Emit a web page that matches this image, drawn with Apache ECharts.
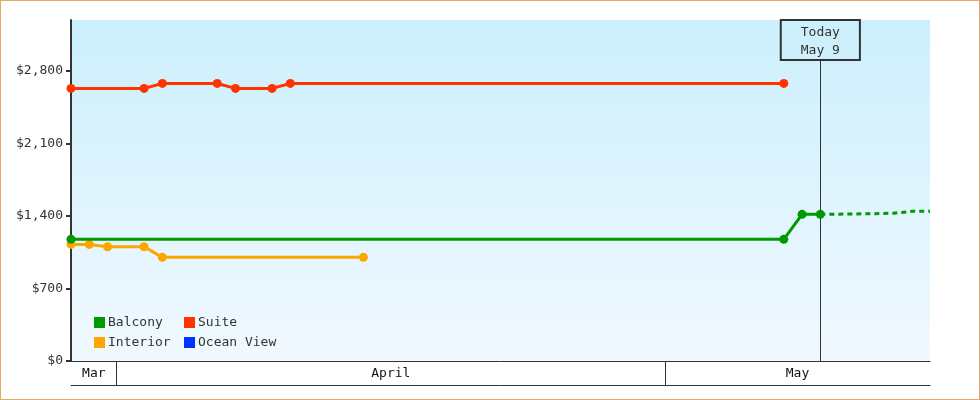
<!DOCTYPE html>
<html>
<head>
<meta charset="utf-8">
<script src="https://cdn.jsdelivr.net/npm/echarts@6/dist/echarts.min.js"></script>
<style>
html,body{margin:0;padding:0;background:#fff;}
#c{width:980px;height:400px;box-sizing:border-box;border:1px solid #e9a867;}
</style>
</head>
<body>
<div id="c"></div>
<script>
function d(m, day) { return new Date(2024, m - 1, day, 12).getTime(); }

const seriesNames = ["Balcony", "Suite", "Interior", "Ocean View"];
const seriesColors = ["#009900", "#ff3300", "#ffa500", "#0033ff"];

const balcony = [[d(3,29),1174],[d(5,7),1174],[d(5,8),1415],[d(5,9),1415]];
const balconyForecast = [[d(5,9),1415],[d(5,10),1417],[d(5,11),1419],[d(5,12),1421],[d(5,13),1426],[d(5,14),1444],[d(5,15),1445]];
const suite = [[d(3,29),2630],[d(4,2),2630],[d(4,3),2678],[d(4,6),2678],[d(4,7),2630],[d(4,9),2630],[d(4,10),2678],[d(5,7),2678]];
const interior = [[d(3,29),1125],[d(3,30),1125],[d(3,31),1102],[d(4,2),1102],[d(4,3),1000],[d(4,14),1000]];
const oceanView = [];

const xMin = d(3,29), xMax = d(5,15);
const today = d(5,9);
const todayLabel = "Today\nMay 9";
const monthStarts = [new Date(2024,3,1).getTime(), new Date(2024,4,1).getTime()];
const monthNames = ["Mar", "April", "May"];
const yMin = 0, yMax = 3290, yStep = 700;

const FONT = "DejaVu Sans Mono";
const TXT = "#333";

const bounds = [xMin].concat(monthStarts, [xMax]);
const monthMids = monthNames.map((_, i) => (bounds[i] + bounds[i+1]) / 2);

const legendBase = {orient: 'vertical', top: 315, padding: 0,
  icon: 'rect', itemWidth: 11, itemHeight: 11, itemGap: 7,
  textStyle: {fontFamily: FONT, fontSize: 13, color: TXT, padding: [0,0,0,-2]}};

const chart = echarts.init(document.getElementById('c'), null, {renderer: 'canvas'});
chart.setOption({
  animation: false,
  textStyle: {fontFamily: FONT},
  grid: {left: 70, right: 49, top: 19, bottom: 38,
    show: true, borderWidth: 0,
    backgroundColor: new echarts.graphic.LinearGradient(0,0,0,1,[{offset:0,color:'#cbeffc'},{offset:1,color:'#f1f9ff'}])},
  legend: [
    Object.assign({}, legendBase, {data: [seriesNames[0], seriesNames[2]], left: 93}),
    Object.assign({}, legendBase, {data: [seriesNames[1], seriesNames[3]], left: 183})
  ],
  xAxis: [
    {type: 'value', min: xMin, max: xMax, position: 'bottom',
      axisLine: {show: true, lineStyle: {color: TXT, width: 1}},
      axisTick: {show: false}, axisLabel: {show: false}, splitLine: {show: false}},
    {type: 'value', min: xMin, max: xMax, position: 'bottom', offset: 24,
      axisLine: {show: true, lineStyle: {color: TXT, width: 1}},
      axisTick: {show: true, inside: true, length: 24, customValues: monthStarts, lineStyle: {color: TXT, width: 1}},
      axisLabel: {show: true, inside: true, margin: 5, customValues: monthMids,
        fontFamily: FONT, fontSize: 13, color: '#111',
        formatter: function (v) {
          let best = 0, bd = Infinity;
          monthMids.forEach((m, i) => { const dd = Math.abs(m - v); if (dd < bd) { bd = dd; best = i; } });
          return monthNames[best];
        }},
      splitLine: {show: false}}
  ],
  yAxis: {type: 'value', min: yMin, max: yMax, interval: yStep,
    axisLine: {show: true, lineStyle: {color: TXT, width: 2}},
    axisTick: {show: true, length: 5, lineStyle: {color: TXT, width: 2}},
    axisLabel: {fontFamily: FONT, fontSize: 13, color: TXT, margin: 8, showMaxLabel: false,
      formatter: v => (v % yStep === 0 ? '$' + v.toLocaleString('en-US') : '')},
    splitLine: {show: false}},
  series: [
    {name: seriesNames[2], type: 'line', data: interior, color: seriesColors[2], z: 3,
      symbol: 'circle', symbolSize: 9, lineStyle: {width: 3}},
    {name: seriesNames[1], type: 'line', data: suite, color: seriesColors[1], z: 3,
      symbol: 'circle', symbolSize: 9, lineStyle: {width: 3}},
    {name: seriesNames[0], type: 'line', data: balconyForecast, color: seriesColors[0], z: 4,
      showSymbol: false, lineStyle: {width: 3, type: [5, 4]}},
    {name: seriesNames[0], type: 'line', data: balcony, color: seriesColors[0], z: 5,
      symbol: 'circle', symbolSize: 9, lineStyle: {width: 3},
      markLine: {silent: true, symbol: ['none','none'],
        lineStyle: {color: TXT, width: 1, type: 'solid'},
        label: {show: true, position: 'end', distance: 0, formatter: todayLabel,
          fontFamily: FONT, fontSize: 13, color: TXT, lineHeight: 18,
          borderColor: TXT, borderWidth: 1, padding: [4, 20, 0, 20], backgroundColor: 'transparent'},
        data: [[{coord: [today, 0]}, {coord: [today, 2905]}]]}},
    {name: seriesNames[3], type: 'line', data: oceanView, color: seriesColors[3]}
  ]
});
</script>
</body>
</html>
